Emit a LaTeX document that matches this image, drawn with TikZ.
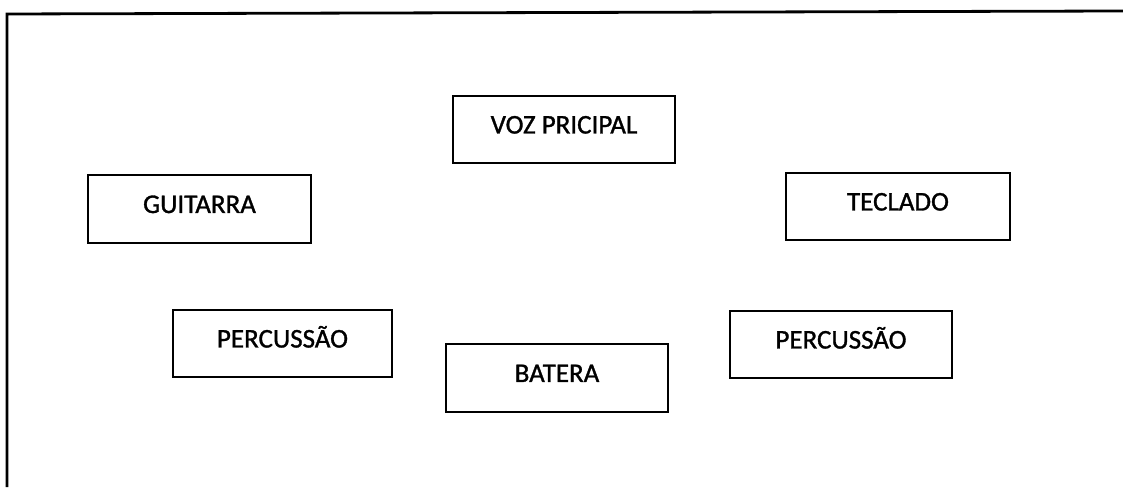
\documentclass[tikz,border=0pt]{standalone}
\usepackage{fontspec}
\setmainfont{Carlito}[FakeBold=1.2]
\begin{document}
\begin{tikzpicture}[x=1pt,y=1pt,
  instbox/.style={draw=black, line width=2.2pt, rectangle, inner sep=0pt,
    minimum height=67pt, font=\fontsize{27}{31}\selectfont,
    text height=16pt, text depth=8pt}]
\useasboundingbox (0,0) rectangle (1123,487);
\fill[white] (0,0) rectangle (1123,487);
% outer frame (top and left edges only)
\coordinate (ftl) at (7,473);
\coordinate (ftr) at (1123,476);
\coordinate (fbl) at (7,0);
\draw[line width=2.8pt] (ftr) -- (ftl) -- (fbl);
% boxes
\node[instbox, minimum width=222pt] (voz)   at (564,357.5) {VOZ PRICIPAL};
\node[instbox, minimum width=223pt, minimum height=68pt] (guit) at (199.5,278) {GUITARRA};
\node[instbox, minimum width=224pt] (tecl)  at (898,280.5) {TECLADO};
\node[instbox, minimum width=219pt] (percL) at (282.5,143.5) {PERCUSSÃO};
\node[instbox, minimum width=222pt, minimum height=68pt] (bat) at (557,109) {BATERA};
\node[instbox, minimum width=222pt] (percR) at (841,142.5) {PERCUSSÃO};
\end{tikzpicture}
\end{document}
